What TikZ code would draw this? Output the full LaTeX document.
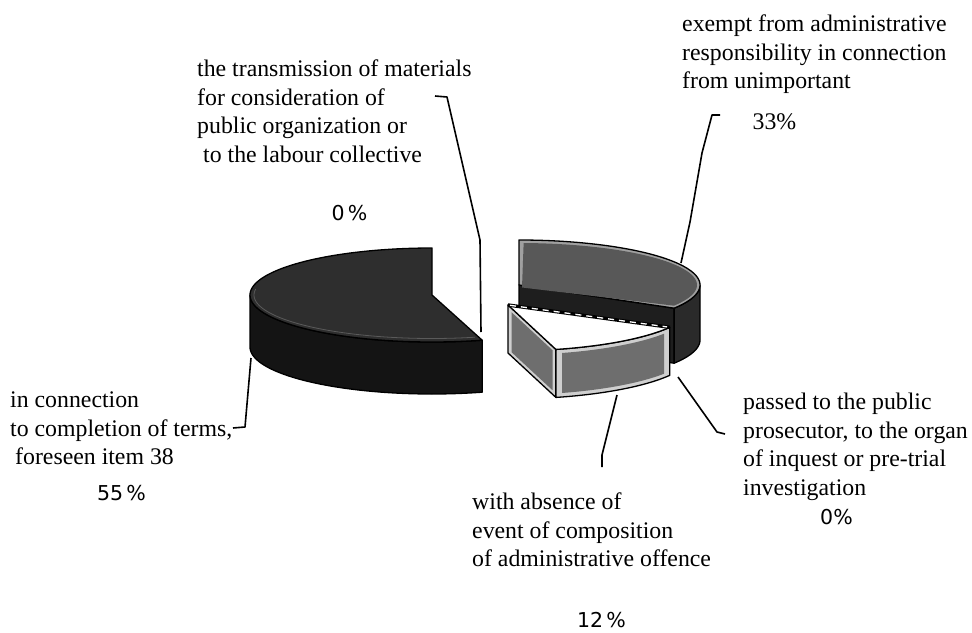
\documentclass[tikz,border=0pt]{standalone}
\usepackage{fontspec}
\setmainfont{Liberation Serif}
\newfontfamily\pctfont{DejaVu Sans}
\definecolor{lefttop}{HTML}{2E2E2E}
\definecolor{leftside}{HTML}{141414}
\definecolor{leftrim}{HTML}{5A5A5A}
\definecolor{darktop}{HTML}{585858}
\definecolor{darkrim}{HTML}{A0A0A0}
\definecolor{darkside}{HTML}{1E1E1E}
\definecolor{darkright}{HTML}{2A2A2A}
\definecolor{midface}{HTML}{6E6E6E}
\definecolor{midrim}{HTML}{CFCFCF}
\begin{document}
\begin{tikzpicture}[x=1pt,y=-1pt,
  lbl/.style={inner sep=0pt, anchor=north west, align=left,
    font=\fontsize{23.8}{28.5}\selectfont},
  pct/.style={inner sep=0pt, font=\pctfont\fontsize{20.5}{24}\selectfont},
  pcts/.style={inner sep=0pt, font=\fontsize{23.8}{28.5}\selectfont},
  leader/.style={draw=black, line width=1.6pt, line join=round},
  edge/.style={draw=black, line width=1.3pt, line join=round},
]
\useasboundingbox (0,0) rectangle (972,632);
\fill[white] (0,0) rectangle (972,632);

% ---- left piece (55%) ----
\path[fill=leftside, edge]
  plot[domain=180:286, samples=60] ({432+182*cos(\x)},{295-47*sin(\x)})
  -- plot[domain=286:180, samples=60] ({432+182*cos(\x)},{347-47*sin(\x)})
  -- cycle;
\path[fill=lefttop, edge] (432,295)
  -- plot[domain=90:286, samples=90] ({432+182*cos(\x)},{295-47*sin(\x)})
  -- cycle;
\draw[leftrim, line width=0.8pt]
  plot[domain=172:284, samples=60] ({432+178*cos(\x)},{295-43.5*sin(\x)});

% ---- dark slice (33%) ----
\path[fill=darkside, edge] (519,285) -- (674.1,308.2) -- (674.1,363.2) -- (519,340) -- cycle;
\path[fill=darkright, edge]
  plot[domain=-31:0, samples=30] ({519+181*cos(\x)},{285-45*sin(\x)})
  -- plot[domain=0:-31, samples=30] ({519+181*cos(\x)},{340-45*sin(\x)})
  -- cycle;
\path[fill=darkrim, edge] (519,285)
  -- plot[domain=-31:90, samples=90] ({519+181*cos(\x)},{285-45*sin(\x)})
  -- cycle;
\fill[darktop] (522,287.5)
  -- plot[domain=-29.5:88.5, samples=90] ({519+178*cos(\x)},{285-42*sin(\x)})
  -- cycle;

% ---- middle slice (12%) ----
% left radial face
\path[fill=midrim, edge] (508,305) -- (555.9,349.4) -- (555.9,397.4) -- (508,353) -- cycle;
\fill[midface] (511.5,312.2) -- (552.5,350.2) -- (552.5,390.2) -- (511.5,352.2) -- cycle;
% front face
\path[fill=midrim, edge]
  plot[domain=285:331, samples=40] ({508+185*cos(\x)},{305-46*sin(\x)})
  -- plot[domain=331:285, samples=40] ({508+185*cos(\x)},{353-46*sin(\x)})
  -- cycle;
\fill[midface]
  plot[domain=287:327.5, samples=40] ({508+185*cos(\x)},{309-46*sin(\x)})
  -- plot[domain=327.5:287, samples=40] ({508+185*cos(\x)},{349-46*sin(\x)})
  -- cycle;
% top face
\path[fill=white, edge] (508,305)
  -- plot[domain=285:331, samples=40] ({508+185*cos(\x)},{305-46*sin(\x)})
  -- cycle;
\draw[black, line width=3.4pt] (508,305) -- (669.8,327.3);
\draw[white, line width=1.3pt, dash pattern=on 6pt off 5pt] (510,305.3) -- (667,326.9);

% ---- labels ----
\node[lbl] (trans) at (197,60) {the transmission of materials\\for consideration of\\public organization or\\\hspace*{6pt}to the labour collective};
\node[pct] (transpct) at (349.5,213) {0\,\%};

\node[lbl] (exempt) at (682,15) {exempt from administrative\\responsibility in connection\\from unimportant};
\node[pcts] (exemptpct) at (774.5,122) {33\%};

\node[lbl] (terms) at (10,392) {in connection\\to completion of terms,\\\hspace*{5pt}foreseen item 38};
\node[pct] (termspct) at (121.5,493) {55\,\%};

\node[lbl] (passed) at (743,393) {passed to the public\\prosecutor, to the organ\\of inquest or pre-trial\\investigation};
\node[pct] (passedpct) at (836.5,517) {0\%};

\node[lbl] (absence) at (472,493) {with absence of\\event of composition\\of administrative offence};
\node[pct] (absencepct) at (601.5,620) {12\,\%};

% ---- leader lines ----
\coordinate (tA) at (435,96);   \coordinate (tB) at (481,332);
\coordinate (eA) at (720,115);  \coordinate (eB) at (681,263);
\coordinate (cA) at (233,428);  \coordinate (cB) at (251,358);
\coordinate (pA) at (725,434);  \coordinate (pB) at (678,377);
\coordinate (aA) at (602,467);  \coordinate (aB) at (617,395);

\draw[leader] (tA) -- (447,97) -- (480,240) -- (tB);
\draw[leader] (eA) -- (712,115) -- (702,153) -- (690,222) -- (eB);
\draw[leader] (cA) -- (245,427) -- (cB);
\draw[leader] (pA) -- (717,432) -- (pB);
\draw[leader] (aA) -- (602,455) -- (aB);
\end{tikzpicture}
\end{document}
